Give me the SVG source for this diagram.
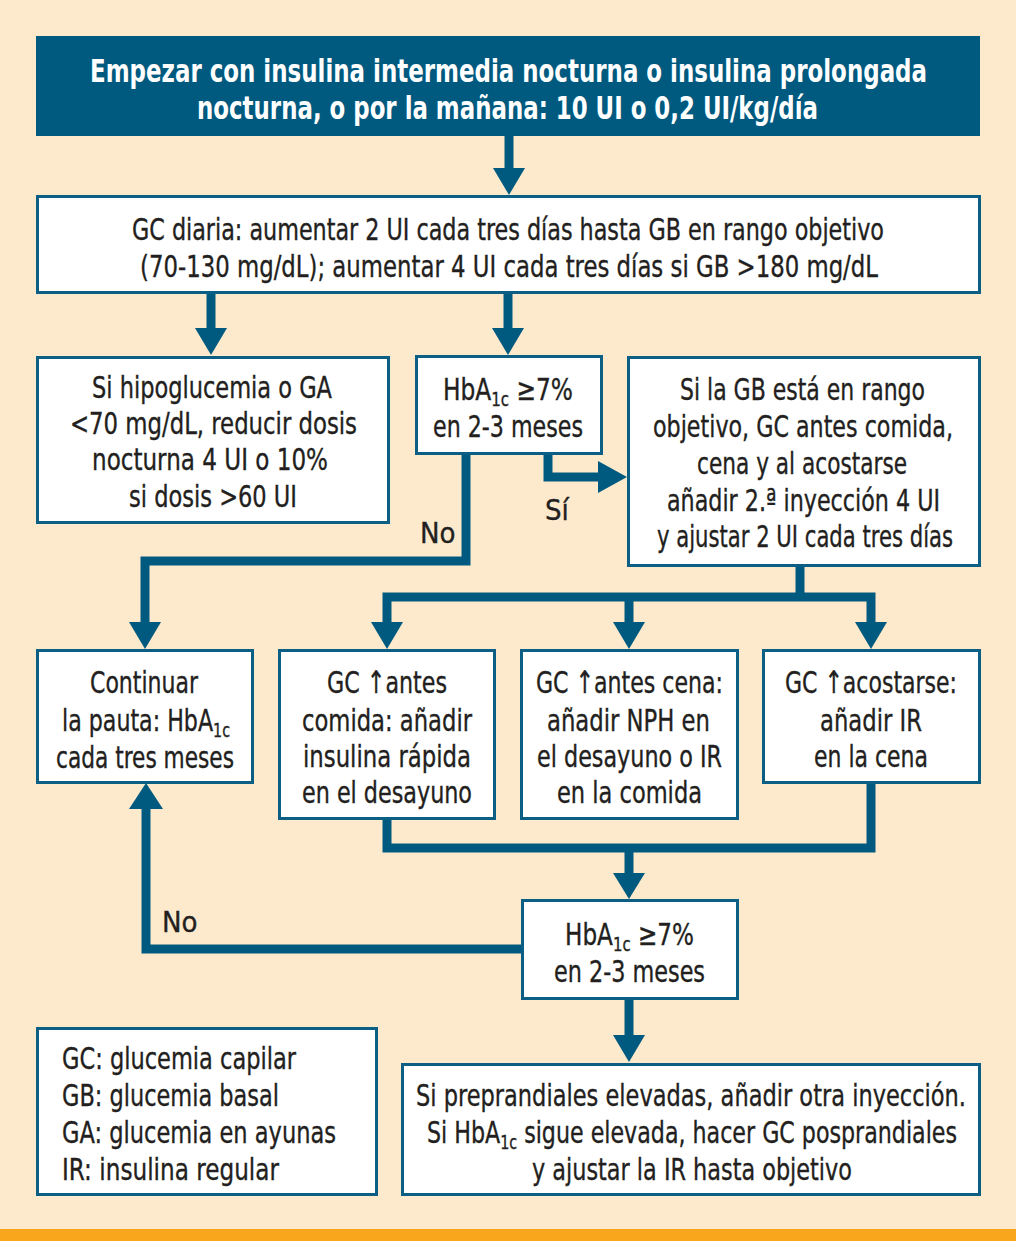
<svg xmlns="http://www.w3.org/2000/svg" width="1016" height="1241" viewBox="0 0 1016 1241">
<defs>
<style>
.bg{fill:#FDEACD}
.box{fill:#FFFFFF;stroke:#0B5E84;stroke-width:3}
.t{font-family:"Liberation Sans Narrow","DejaVu Sans Condensed","Liberation Sans",sans-serif;font-size:31px;fill:#231F20;stroke:#231F20;stroke-width:0.35;text-anchor:middle}
.l{text-anchor:start}
.h{font-family:"Liberation Sans Narrow","DejaVu Sans Condensed","Liberation Sans",sans-serif;font-size:32px;font-weight:bold;fill:#FFFFFF;text-anchor:middle}
.lab{font-family:"Liberation Sans Narrow","DejaVu Sans Condensed","Liberation Sans",sans-serif;font-size:29px;fill:#231F20;stroke:#231F20;stroke-width:0.35}
.c{fill:none;stroke:#005A80;stroke-width:9;stroke-linejoin:miter}
.ah{fill:#005A80}
</style>
</defs>
<rect class="bg" x="0" y="0" width="1016" height="1241"/>
<rect x="0" y="1229" width="1016" height="12" fill="#F9A61C"/>

<g id="connectors">
<path class="c" d="M509 136V170"/>
<polygon class="ah" points="493,168 525,168 509,195"/>
<path class="c" d="M211 294V330"/>
<polygon class="ah" points="195,328 227,328 211,355"/>
<path class="c" d="M508 294V330"/>
<polygon class="ah" points="492,328 524,328 508,355"/>
<path class="c" d="M548 455V477H600"/>
<polygon class="ah" points="598,461 598,493 627,477"/>
<path class="c" d="M466 455V561H145V624"/>
<polygon class="ah" points="129,622 161,622 145,649"/>
<path class="c" d="M800 566V597M387 624V597H871V624M629 597V624"/>
<polygon class="ah" points="371,622 403,622 387,649"/>
<polygon class="ah" points="613,622 645,622 629,649"/>
<polygon class="ah" points="855,622 887,622 871,649"/>
<path class="c" d="M387 819V848H871V783M629 848V875"/>
<polygon class="ah" points="613,873 645,873 629,899"/>
<path class="c" d="M521 949H146V807"/>
<polygon class="ah" points="129,809 163,809 146,783"/>
<path class="c" d="M629 1000V1037"/>
<polygon class="ah" points="613,1035 645,1035 629,1062"/>
<text class="lab" x="420" y="543">No</text>
<text class="lab" x="545" y="520">Sí</text>
<text class="lab" x="162" y="932">No</text>
</g>

<g id="start">
<rect x="36" y="36" width="944" height="100" fill="#005A80"/>
<text class="h" x="508.5" y="82" textLength="837" lengthAdjust="spacingAndGlyphs">Empezar con insulina intermedia nocturna o insulina prolongada</text>
<text class="h" x="507.5" y="119" textLength="621" lengthAdjust="spacingAndGlyphs">nocturna, o por la mañana: 10 UI o 0,2 UI/kg/día</text>
</g>

<g id="gc-diaria">
<rect class="box" x="37.5" y="196.5" width="942" height="96"/>
<text class="t" x="508" y="240" textLength="752" lengthAdjust="spacingAndGlyphs">GC diaria: aumentar 2 UI cada tres días hasta GB en rango objetivo</text>
<text class="t" x="509" y="277" textLength="738" lengthAdjust="spacingAndGlyphs">(70-130 mg/dL); aumentar 4 UI cada tres días si GB &gt;180 mg/dL</text>
</g>

<g id="hipoglucemia">
<rect class="box" x="37.5" y="357.5" width="351" height="165"/>
<text class="t" x="212" y="398" textLength="240" lengthAdjust="spacingAndGlyphs">Si hipoglucemia o GA</text>
<text class="t" x="213.5" y="434" textLength="287" lengthAdjust="spacingAndGlyphs">&lt;70 mg/dL, reducir dosis</text>
<text class="t" x="210" y="470" textLength="236" lengthAdjust="spacingAndGlyphs">nocturna 4 UI o 10%</text>
<text class="t" x="213" y="507" textLength="168" lengthAdjust="spacingAndGlyphs">si dosis &gt;60 UI</text>
</g>

<g id="hba1c-1">
<rect class="box" x="416.5" y="356.5" width="185" height="97"/>
<text class="t" x="508" y="400" textLength="130" lengthAdjust="spacingAndGlyphs">HbA<tspan font-size="20" dy="6">1c</tspan><tspan dy="-6"> ≥7%</tspan></text>
<text class="t" x="508" y="437" textLength="150" lengthAdjust="spacingAndGlyphs">en 2-3 meses</text>
</g>

<g id="rango-objetivo">
<rect class="box" x="628.5" y="357.5" width="351" height="208"/>
<text class="t" x="802.5" y="400" textLength="245" lengthAdjust="spacingAndGlyphs">Si la GB está en rango</text>
<text class="t" x="803" y="437" textLength="300" lengthAdjust="spacingAndGlyphs">objetivo, GC antes comida,</text>
<text class="t" x="802" y="474" textLength="210" lengthAdjust="spacingAndGlyphs">cena y al acostarse</text>
<text class="t" x="803.5" y="511" textLength="273" lengthAdjust="spacingAndGlyphs">añadir 2.ª inyección 4 UI</text>
<text class="t" x="805" y="547" textLength="296" lengthAdjust="spacingAndGlyphs">y ajustar 2 UI cada tres días</text>
</g>

<g id="continuar">
<rect class="box" x="37.5" y="650.5" width="215" height="132"/>
<text class="t" x="144" y="693" textLength="108" lengthAdjust="spacingAndGlyphs">Continuar</text>
<text class="t" x="146" y="731" textLength="168" lengthAdjust="spacingAndGlyphs">la pauta: HbA<tspan font-size="20" dy="6">1c</tspan></text>
<text class="t" x="145" y="768" textLength="178" lengthAdjust="spacingAndGlyphs">cada tres meses</text>
</g>

<g id="antes-comida">
<rect class="box" x="279.5" y="650.5" width="215" height="168"/>
<text class="t" x="387" y="693" textLength="120" lengthAdjust="spacingAndGlyphs">GC ↑antes</text>
<text class="t" x="387" y="731" textLength="170" lengthAdjust="spacingAndGlyphs">comida: añadir</text>
<text class="t" x="387" y="767" textLength="168" lengthAdjust="spacingAndGlyphs">insulina rápida</text>
<text class="t" x="387" y="803" textLength="170" lengthAdjust="spacingAndGlyphs">en el desayuno</text>
</g>

<g id="antes-cena">
<rect class="box" x="521.5" y="650.5" width="216" height="168"/>
<text class="t" x="629.5" y="693" textLength="187" lengthAdjust="spacingAndGlyphs">GC ↑antes cena:</text>
<text class="t" x="628.5" y="731" textLength="163" lengthAdjust="spacingAndGlyphs">añadir NPH en</text>
<text class="t" x="629.5" y="767" textLength="185" lengthAdjust="spacingAndGlyphs">el desayuno o IR</text>
<text class="t" x="629.5" y="803" textLength="145" lengthAdjust="spacingAndGlyphs">en la comida</text>
</g>

<g id="acostarse">
<rect class="box" x="763.5" y="650.5" width="216" height="132"/>
<text class="t" x="871" y="693" textLength="172" lengthAdjust="spacingAndGlyphs">GC ↑acostarse:</text>
<text class="t" x="871" y="731" textLength="102" lengthAdjust="spacingAndGlyphs">añadir IR</text>
<text class="t" x="871" y="767" textLength="114" lengthAdjust="spacingAndGlyphs">en la cena</text>
</g>

<g id="hba1c-2">
<rect class="box" x="522.5" y="900.5" width="215" height="98"/>
<text class="t" x="629.5" y="945" textLength="129" lengthAdjust="spacingAndGlyphs">HbA<tspan font-size="20" dy="6">1c</tspan><tspan dy="-6"> ≥7%</tspan></text>
<text class="t" x="629.5" y="982" textLength="151" lengthAdjust="spacingAndGlyphs">en 2-3 meses</text>
</g>

<g id="legend">
<rect class="box" x="37.5" y="1028.5" width="339" height="166"/>
<text class="t l" x="62" y="1069" textLength="234" lengthAdjust="spacingAndGlyphs">GC: glucemia capilar</text>
<text class="t l" x="62" y="1106" textLength="217" lengthAdjust="spacingAndGlyphs">GB: glucemia basal</text>
<text class="t l" x="62" y="1143" textLength="274" lengthAdjust="spacingAndGlyphs">GA: glucemia en ayunas</text>
<text class="t l" x="62" y="1180" textLength="217" lengthAdjust="spacingAndGlyphs">IR: insulina regular</text>
</g>

<g id="preprandiales">
<rect class="box" x="402.5" y="1064.5" width="577" height="130"/>
<text class="t" x="691" y="1106" textLength="550" lengthAdjust="spacingAndGlyphs">Si preprandiales elevadas, añadir otra inyección.</text>
<text class="t" x="692" y="1143" textLength="530" lengthAdjust="spacingAndGlyphs">Si HbA<tspan font-size="20" dy="6">1c</tspan><tspan dy="-6"> sigue elevada, hacer GC posprandiales</tspan></text>
<text class="t" x="692" y="1180" textLength="320" lengthAdjust="spacingAndGlyphs">y ajustar la IR hasta objetivo</text>
</g>
</svg>
